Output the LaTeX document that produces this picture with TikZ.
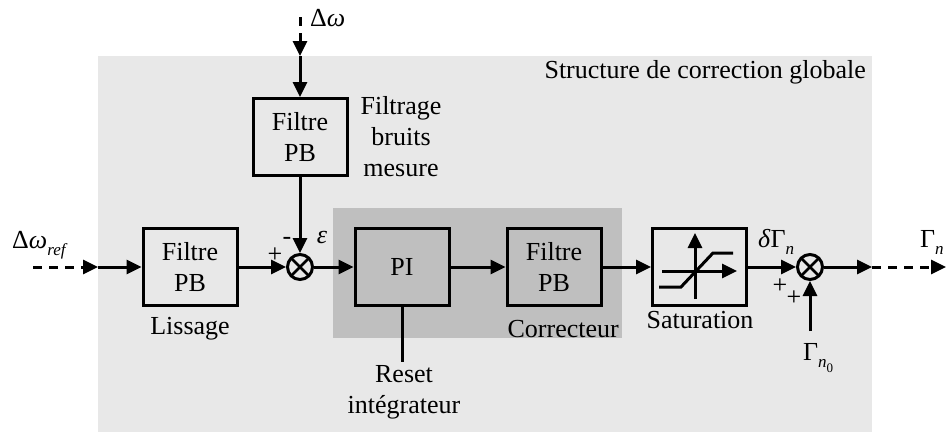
\documentclass[tikz,border=0pt]{standalone}
\usepackage{fontspec}
\setmainfont{Liberation Serif}
\usetikzlibrary{arrows.meta}
\newcommand{\lowtxt}[2][17]{\raisebox{-0.3em}{\fontsize{#1}{#1}\selectfont #2}}
\tikzset{
	lbl/.style={font=\fontsize{26}{31}\selectfont, align=center, inner sep=0pt},
	bloc/.style={lbl, draw, line width=3pt, minimum width=94pt, minimum height=77pt},
	somme/.style={draw, circle, line width=3pt, minimum size=25pt, inner sep=0pt,
		path picture={\draw[line width=2.6pt] (path picture bounding box.north west) -- (path picture bounding box.south east) (path picture bounding box.south west) -- (path picture bounding box.north east);}},
	fleche/.style={line width=3pt, -{Triangle[length=15pt,width=14pt]}},
	tirets/.style={fleche, dash pattern=on 9pt off 7pt},
	signe/.style={font=\fontsize{26}{26}\selectfont, inner sep=0pt}
}
\begin{document}
\begin{tikzpicture}[x=1pt,y=-1pt]
		\useasboundingbox (0,0) rectangle (946,434);
		\fill[black!9] (98,56) rectangle (872,432);
		\fill[black!25] (333,208) rectangle (622,338);
		
		\node[bloc] (lis) at (190,267) {Filtre\\PB};
		\node[bloc] (mes) at (300,137) {Filtre\\PB};
		\node[somme] (s1) at (300,267) {};
		\node[bloc] (pi) at (402,267) {PI};
		\node[bloc] (corr) at (554,267) {Filtre\\PB};
		\node[bloc] (sat) at (699.5,267) {};
		\node[somme] (s2) at (810,267) {};
		
		\coordinate (in0) at (33,267);
		\coordinate (in1) at (98,267);
		\coordinate (dw0) at (300,17);
		\coordinate (dw1) at (300,56);
		\coordinate (out1) at (872,267);
		\coordinate (out2) at (946,267);
		\coordinate (g0) at (810,331);
		\coordinate (rst) at (402,362);
		
		\draw[tirets] (in0) -- (in1);
		\draw[fleche] (in1) -- (lis.west);
		\draw[tirets] (dw0) -- (dw1);
		\draw[fleche] (dw1) -- (mes.north);
		\draw[fleche] (mes.south) -- (s1.north);
		\draw[fleche] (lis.east) -- (s1.west);
		\draw[fleche] (s1.east) -- (pi.west);
		\draw[fleche] (pi.east) -- (corr.west);
		\draw[fleche] (corr.east) -- (sat.west);
		\draw[fleche] (sat.east) -- (s2.west);
		\draw[fleche] (s2.east) -- (out1);
		\draw[tirets] (out1) -- (out2);
		\draw[fleche] (g0) -- (s2.south);
		\draw[line width=3pt] (pi.south) -- (rst);
		
		\draw[line width=3pt] (659,287) -- (681,287) -- (713,253) -- (733,253);
		\draw[fleche] (662,271) -- (737,271);
		\draw[fleche] (695,299) -- (695,233);
		
		\node[lbl,anchor=base west] (wref) at (12,248) {Δ\textit{ω}\lowtxt{\textit{ref}}};
		\node[lbl,anchor=base west] (dw) at (310,26) {Δ\textit{ω}};
		\node[lbl] (filtrage) at (401,137) {Filtrage\\bruits\\mesure};
		\node[lbl,anchor=base] (lissage) at (190,334) {Lissage};
		\node[lbl,anchor=base east] (correcteur) at (619,337) {Correcteur};
		\node[lbl,anchor=base] (saturation) at (700,328) {Saturation};
		\node[lbl] (reset) at (404,392) {Reset\\intégrateur};
		\node[lbl,anchor=base east] (titre) at (866,78) {Structure de correction globale};
		\node[lbl,anchor=base west] (dgn) at (758,247) {\textit{δ}Γ\lowtxt{\textit{n}}};
		\node[lbl,anchor=base west] (gn) at (920,247) {Γ\lowtxt{\textit{n}}};
		\node[lbl,anchor=base west] (gn0) at (803,360) {Γ\lowtxt{\textit{n}\lowtxt[13]{0}}};
		\node[lbl] (eps) at (322,237) {\textit{ε}};
		
		\node[signe] (p1) at (275,255) {+};
		\node[signe] (m1) at (287,241) {-};
		\node[signe] (p2) at (780,286) {+};
		\node[signe] (p3) at (794,298) {+};
\end{tikzpicture}
\end{document}
